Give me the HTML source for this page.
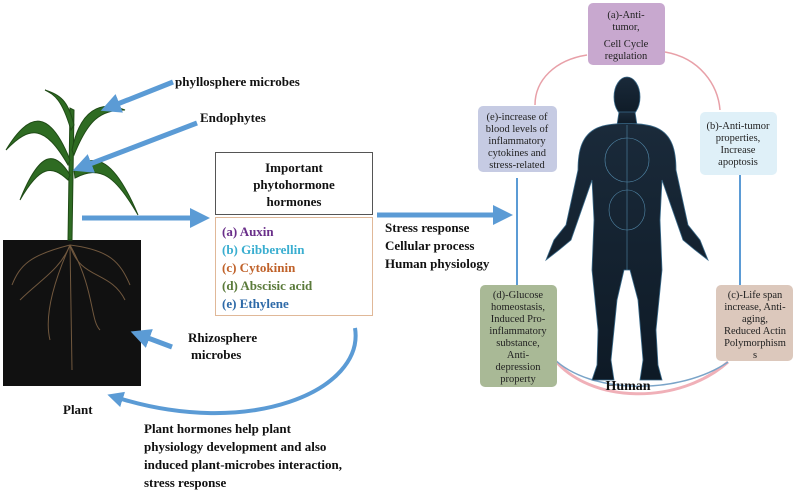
<!DOCTYPE html>
<html><head><meta charset="utf-8"><style>
html,body{margin:0;padding:0;background:#fff}
svg{display:block}
.b{font-family:"Liberation Serif",serif;font-weight:bold;font-size:13px;fill:#111}
.s{font-family:"Liberation Serif",serif;font-size:10.5px;fill:#222;text-anchor:middle}
</style></head><body>
<svg width="796" height="495" viewBox="0 0 796 495" xmlns="http://www.w3.org/2000/svg">
<defs>
<marker id="ah" markerWidth="4" markerHeight="4" refX="2" refY="2" orient="auto" markerUnits="strokeWidth"><path d="M0,0 L4,2 L0,4 z" fill="#5b9bd5"/></marker>
<linearGradient id="bd" x1="0" y1="0" x2="0" y2="1"><stop offset="0" stop-color="#1a2a3a"/><stop offset="1" stop-color="#0e1a26"/></linearGradient>
</defs>
<!-- soil -->
<rect x="3" y="240" width="138" height="146" fill="#111"/>
<g stroke="#8a6a4a" stroke-width="1" fill="none" opacity="0.8">
<path d="M70 245 C60 270 40 280 20 300"/><path d="M70 245 C80 280 110 270 125 300"/><path d="M70 245 L72 370"/><path d="M70 245 C50 290 45 320 50 340"/><path d="M70 245 C95 290 90 320 100 330"/><path d="M70 245 C30 255 20 265 12 285"/><path d="M70 245 C110 250 120 262 130 285"/>
</g>
<!-- plant -->
<g fill="#2e6b22" stroke="#1f4a16" stroke-width="1">
<path d="M68 240 L72 240 L74 110 L70 108 Z"/>
<path d="M70 160 C50 110 30 110 6 150 C30 125 45 125 68 165 Z"/>
<path d="M72 150 C80 110 100 100 125 110 C100 110 88 120 74 155 Z"/>
<path d="M70 175 C55 150 40 150 20 200 C40 165 52 165 68 180 Z"/>
<path d="M74 170 C95 150 115 160 138 215 C115 175 100 165 75 178 Z"/>
<path d="M71 130 C62 100 55 95 45 90 C60 95 68 100 74 125 Z"/>
</g>
<!-- left arrows -->
<g stroke="#5b9bd5" stroke-width="5" fill="none">
<line x1="173" y1="82" x2="110" y2="107" marker-end="url(#ah)"/>
<line x1="197" y1="123" x2="82" y2="167" marker-end="url(#ah)"/>
<line x1="82" y1="218" x2="200" y2="218" marker-end="url(#ah)"/>
<line x1="172" y1="347" x2="140" y2="335" marker-end="url(#ah)"/>
<line x1="377" y1="215" x2="503" y2="215" marker-end="url(#ah)"/>
<path d="M355 328 C365 390 250 440 115 397" stroke-width="4" marker-end="url(#ah)"/>
</g>
<text class="b" x="175" y="86">phyllosphere microbes</text>
<text class="b" x="200" y="122">Endophytes</text>
<text class="b" x="188" y="342">Rhizosphere</text>
<text class="b" x="191" y="359">microbes</text>
<text class="b" x="63" y="414">Plant</text>
<text class="b" x="144" y="433">Plant hormones help plant</text>
<text class="b" x="144" y="451">physiology development and also</text>
<text class="b" x="144" y="469">induced plant-microbes interaction,</text>
<text class="b" x="144" y="487">stress response</text>
<!-- boxes -->
<rect x="215.5" y="152.5" width="157" height="62" fill="#fff" stroke="#555"/>
<text class="b" x="294" y="172" text-anchor="middle">Important</text>
<text class="b" x="294" y="189" text-anchor="middle">phytohormone</text>
<text class="b" x="294" y="206" text-anchor="middle">hormones</text>
<rect x="215.5" y="217.5" width="157" height="98" fill="#fff" stroke="#e0b898"/>
<text class="b" x="222" y="236" fill="#6a2f8a" style="fill:#6a2f8a">(a) Auxin</text>
<text class="b" x="222" y="254" style="fill:#3aaed0">(b) Gibberellin</text>
<text class="b" x="222" y="272" style="fill:#c0622a">(c) Cytokinin</text>
<text class="b" x="222" y="290" style="fill:#5a7a3a">(d) Abscisic acid</text>
<text class="b" x="222" y="308" style="fill:#2e6aa8">(e) Ethylene</text>
<text class="b" x="385" y="232">Stress response</text>
<text class="b" x="385" y="250">Cellular process</text>
<text class="b" x="385" y="268">Human physiology</text>
<!-- connectors right -->
<g fill="none" stroke-width="1.5">
<path d="M587 55 C555 60 535 80 535 105" stroke="#e8a0a8"/>
<path d="M665 52 C700 58 718 85 720 110" stroke="#e8a0a8"/>
<path d="M553 358 C590 405 680 405 728 362" stroke="#f0b0b8" stroke-width="3"/>
<path d="M553 358 C590 395 680 395 728 362" stroke="#7aa4c8"/>
<line x1="517" y1="178" x2="517" y2="285" stroke="#5b9bd5" stroke-width="2"/>
<line x1="740" y1="175" x2="740" y2="286" stroke="#5b9bd5" stroke-width="2"/>
</g>
<!-- human -->
<g fill="url(#bd)" stroke="#3a6a8a" stroke-width="0.8">
<ellipse cx="627" cy="97" rx="13" ry="20"/>
<path d="M619 112 L635 112 L637 125 L617 125 Z"/>
<path d="M597 128 C610 122 644 122 657 128 C672 135 676 150 676 170 L688 225 L700 240 L708 260 L695 250 L683 240 L662 180 L660 220 L662 270 L656 330 L658 365 L662 380 L640 380 L643 360 L638 300 L630 270 L624 270 L617 300 L611 360 L614 380 L592 380 L597 365 L598 330 L592 270 L594 220 L592 180 L571 240 L559 250 L546 260 L554 240 L566 225 L578 170 C578 150 582 135 597 128 Z"/>
</g>
<g stroke="#6ab0d8" stroke-width="0.6" fill="none" opacity="0.7">
<ellipse cx="627" cy="160" rx="22" ry="22"/><ellipse cx="627" cy="210" rx="18" ry="20"/><path d="M627 125 L627 270"/>
</g>
<text x="628" y="390" text-anchor="middle" style="font-family:'Liberation Serif',serif;font-weight:bold;font-size:14px;fill:#111">Human</text>
<!-- info boxes -->
<rect x="588" y="3" width="77" height="62" rx="5" fill="#c8a8cf"/>
<text class="s" x="626" y="18">(a)-Anti-</text><text class="s" x="626" y="30">tumor,</text>
<text class="s" x="626" y="47">Cell Cycle</text><text class="s" x="626" y="59">regulation</text>
<rect x="478" y="106" width="79" height="66" rx="5" fill="#c6cbe3"/>
<text class="s" x="517" y="120">(e)-increase of</text><text class="s" x="517" y="132">blood levels of</text>
<text class="s" x="517" y="144">inflammatory</text><text class="s" x="517" y="156">cytokines and</text><text class="s" x="517" y="168">stress-related</text>
<rect x="700" y="112" width="77" height="63" rx="5" fill="#dff0f8"/>
<text class="s" x="738" y="129">(b)-Anti-tumor</text><text class="s" x="738" y="141">properties,</text>
<text class="s" x="738" y="153">Increase</text><text class="s" x="738" y="165">apoptosis</text>
<rect x="716" y="285" width="77" height="76" rx="5" fill="#dcc8bc"/>
<text class="s" x="755" y="298">(c)-Life span</text><text class="s" x="755" y="310">increase, Anti-</text>
<text class="s" x="755" y="322">aging,</text><text class="s" x="755" y="334">Reduced Actin</text>
<text class="s" x="755" y="346">Polymorphism</text><text class="s" x="755" y="358">s</text>
<rect x="480" y="285" width="77" height="102" rx="5" fill="#a9b996"/>
<text class="s" x="518" y="298">(d)-Glucose</text><text class="s" x="518" y="310">homeostasis,</text>
<text class="s" x="518" y="322">Induced Pro-</text><text class="s" x="518" y="334">inflammatory</text>
<text class="s" x="518" y="346">substance,</text><text class="s" x="518" y="358">Anti-</text>
<text class="s" x="518" y="370">depression</text><text class="s" x="518" y="382">property</text>
</svg>
</body></html>
